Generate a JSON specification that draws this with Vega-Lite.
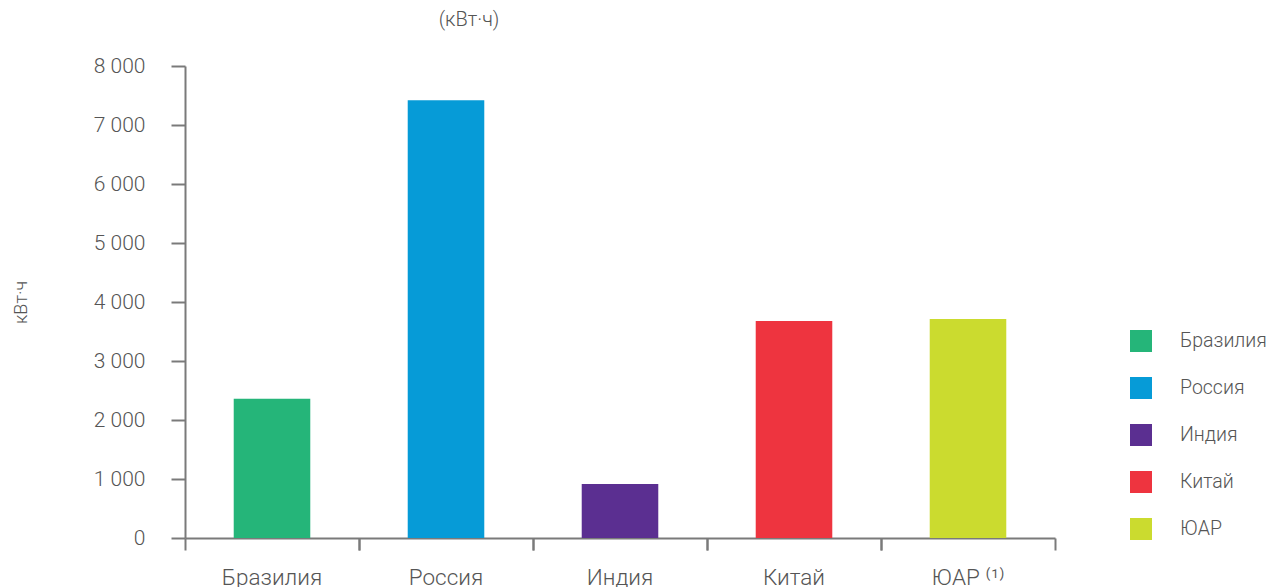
{
  "$schema": "https://vega.github.io/schema/vega-lite/v6.json",
  "width": 870,
  "height": 472,
  "autosize": {"type": "none"},
  "padding": {"left": 185, "top": 66, "right": 214, "bottom": 49},
  "background": "white",
  "config": {
    "view": {"stroke": null},
    "font": "Roboto",
    "axis": {"labelFont": "Roboto", "titleFont": "Roboto", "labelFontWeight": 300, "titleFontWeight": 300, "labelColor": "#555555", "titleColor": "#555555", "domainColor": "#7a7a7a", "tickColor": "#7a7a7a", "domainWidth": 2, "tickWidth": 2, "grid": false},
    "legend": {"labelFont": "Roboto", "labelFontWeight": 300, "labelColor": "#555555"}
  },
  "title": {"text": "(кВт·ч)", "font": "Roboto", "fontWeight": 300, "fontSize": 20, "color": "#555555", "anchor": "middle", "dx": -151, "offset": 25},
  "data": {"values": [
    {"country": "Бразилия", "value": 2360},
    {"country": "Россия", "value": 7420},
    {"country": "Индия", "value": 915},
    {"country": "Китай", "value": 3680},
    {"country": "ЮАР", "value": 3710}
  ]},
  "layer": [
    {
      "mark": {"type": "bar", "width": {"band": 0.44}},
      "encoding": {
        "x": {"field": "country", "type": "nominal", "sort": null,
          "scale": {"paddingInner": 0, "paddingOuter": 0},
          "axis": {"orient": "bottom", "title": null, "labelAngle": 0, "bandPosition": 0, "labelFontSize": 22.5, "tickSize": 12, "labelPadding": 16,
            "labelExpr": "datum.value == 'ЮАР' ? 'ЮАР ⁽¹⁾' : datum.value"}},
        "y": {"field": "value", "type": "quantitative",
          "scale": {"domain": [0, 8000], "nice": false},
          "axis": {"title": "кВт·ч", "values": [0,1000,2000,3000,4000,5000,6000,7000,8000], "labelFontSize": 21, "tickSize": 14, "labelPadding": 26,
            "labelExpr": "replace(format(datum.value, ',d'), ',', ' ')", "titleFontSize": 18, "titlePadding": 63}},
        "color": {"field": "country", "type": "nominal", "sort": null,
          "scale": {"domain": ["Бразилия", "Россия", "Индия", "Китай", "ЮАР"], "range": ["#25b579", "#069bd7", "#5b2f91", "#ee343f", "#cbdb2f"]},
          "legend": {"title": null, "orient": "none", "legendX": 945, "legendY": 264, "symbolType": "square", "symbolSize": 484, "symbolStrokeWidth": 0, "labelFontSize": 19.5, "labelOffset": 28, "rowPadding": 25, "symbolOpacity": 1}}
      }
    },
    {
      "mark": {"type": "tick", "opacity": 0},
      "encoding": {
        "x": {"field": "country", "type": "nominal", "sort": null,
          "axis": {"orient": "bottom", "title": null, "labels": false, "domain": false, "bandPosition": 1, "tickSize": 12}},
        "y": {"field": "value", "type": "quantitative"}
      }
    }
  ],
  "resolve": {"axis": {"x": "independent"}}
}
